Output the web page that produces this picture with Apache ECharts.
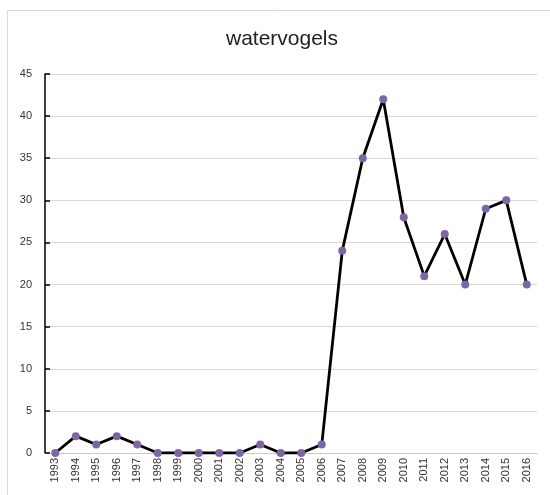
<!DOCTYPE html>
<html>
<head>
<meta charset="utf-8">
<script src="https://cdn.jsdelivr.net/npm/echarts@6/dist/echarts.min.js"></script>
<style>
html,body{margin:0;padding:0;background:#fff;}
#chart{width:550px;height:495px;}
</style>
</head>
<body>
<div id="chart"></div>
<script>
var years = ['1993','1994','1995','1996','1997','1998','1999','2000','2001','2002','2003','2004','2005','2006','2007','2008','2009','2010','2011','2012','2013','2014','2015','2016'];
var counts = [0,2,1,2,1,0,0,0,0,0,1,0,0,1,24,35,42,28,21,26,20,29,30,20];
var titleText = 'watervogels';

var chart = echarts.init(document.getElementById('chart'));
chart.setOption({
  animation: false,
  backgroundColor: '#fff',
  graphic: [{
    type: 'rect',
    shape: { x: 7.5, y: 10.5, width: 560, height: 520 },
    style: { fill: 'none', stroke: '#d9d9d9', lineWidth: 1 },
    silent: true
  }],
  title: {
    text: titleText,
    left: 282,
    textAlign: 'center',
    top: 29,
    textStyle: { fontFamily: 'Liberation Sans, Arial, sans-serif', fontSize: 21, fontWeight: 'normal', color: '#222' },
    padding: 0
  },
  grid: { left: 45, right: 13, top: 74, bottom: 42 },
  xAxis: {
    type: 'category',
    data: years,
    boundaryGap: true,
    axisLine: { lineStyle: { color: '#c8c8c8', width: 1 } },
    axisTick: { inside: true, length: 4, lineStyle: { color: '#c8c8c8' } },
    axisLabel: { rotate: 90, interval: 0, margin: 5, fontSize: 11, color: '#333', fontFamily: 'Liberation Sans, Arial, sans-serif' },
    splitLine: { show: false }
  },
  yAxis: {
    type: 'value',
    min: 0, max: 45, interval: 5,
    axisLine: { show: true, lineStyle: { color: '#000', width: 1.5 } },
    axisTick: { show: true, inside: true, length: 5, lineStyle: { color: '#000', width: 1.5 } },
    axisLabel: { fontSize: 11, color: '#333', margin: 13, fontFamily: 'Liberation Sans, Arial, sans-serif' },
    splitLine: { lineStyle: { color: '#d9d9d9', width: 1 } }
  },
  series: [{
    type: 'line',
    data: counts,
    symbol: 'circle',
    symbolSize: 8,
    itemStyle: { color: '#7e66a6' },
    lineStyle: { color: '#000', width: 2.8 },
    z: 3
  }]
});
</script>
</body>
</html>
